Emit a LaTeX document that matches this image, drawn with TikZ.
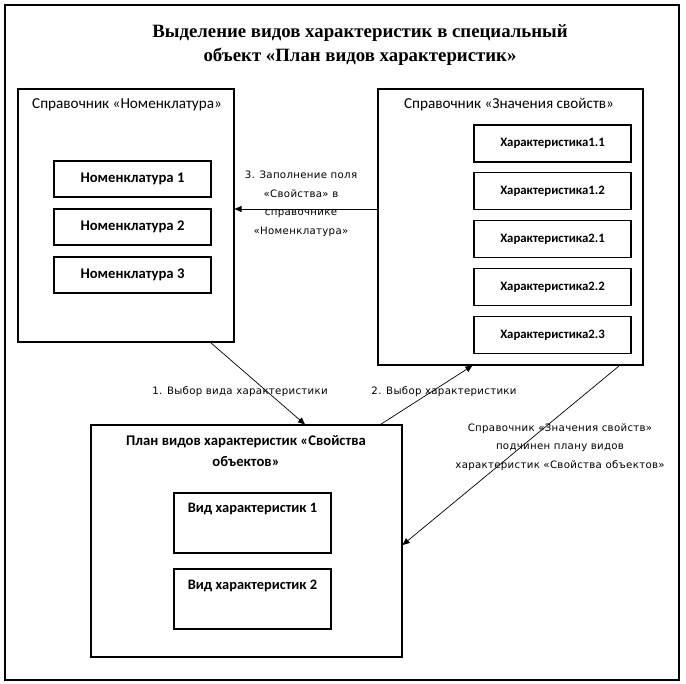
\documentclass[tikz,border=0pt]{standalone}
\usepackage{fontspec}
\setmainfont{Liberation Serif}
\newfontfamily\calfont{Carlito}
\newfontfamily\notefont[LetterSpace=3]{DejaVu Sans}
\usetikzlibrary{arrows.meta,positioning}

\begin{document}
\begin{tikzpicture}[x=1pt,y=-1pt,
  every node/.style={inner sep=0pt},
  box/.style={draw,line width=1.1pt},
  item/.style={box,minimum width=157pt,minimum height=36pt,font=\calfont\bfseries\fontsize{14.7}{16}\selectfont},
  chr/.style={item,minimum height=37pt,font=\calfont\bfseries\fontsize{12.8}{14}\selectfont},
  vid/.style={item,minimum height=60pt,text height=20pt,text depth=40pt,font=\calfont\bfseries\fontsize{14.4}{16}\selectfont},
  ttl/.style={font=\calfont\fontsize{15.2}{21}\selectfont,align=center},
  note/.style={font=\notefont\fontsize{10.2}{18.5}\selectfont,align=center},
  arr/.style={-{Triangle[length=7pt,width=6pt]},line width=0.7pt}
]
\useasboundingbox (0,0) rectangle (686,684);
\draw[box] (5,5) rectangle (679,680);

\node[font=\bfseries\fontsize{18.8}{24}\selectfont,align=center] (title) at (360,45)
  {Выделение видов характеристик в специальный\\объект «План видов характеристик»};

% Справочник «Номенклатура»
\node[box,minimum width=216pt,minimum height=253pt] (lbox) at (126,215.5) {};
\node[ttl] (ltitle) at (127,105) {Справочник «Номенклатура»};
\node[item] (n1) at (132.5,179) {Номенклатура 1};
\node[item] (n2) at (132.5,227) {Номенклатура 2};
\node[item] (n3) at (132.5,275) {Номенклатура 3};

% Справочник «Значения свойств»
\node[box,minimum width=265pt,minimum height=276pt] (rbox) at (510.5,227) {};
\node[ttl] (rtitle) at (509,105) {Справочник «Значения свойств»};
\node[chr] (c11) at (552.5,143.5) {Характеристика1.1};
\node[chr] (c12) at (552.5,191) {Характеристика1.2};
\node[chr] (c21) at (552.5,239) {Характеристика2.1};
\node[chr] (c22) at (552.5,287) {Характеристика2.2};
\node[chr] (c23) at (552.5,335) {Характеристика2.3};

% План видов характеристик
\node[box,minimum width=311pt,minimum height=232pt] (bbox) at (246.5,541) {};
\node[ttl,font=\calfont\bfseries\fontsize{14.7}{21}\selectfont] (btitle) at (246,451.5)
  {План видов характеристик «Свойства\\объектов»};
\node[vid] (v1) at (252.5,523) {Вид характеристик 1};
\node[vid] (v2) at (252.5,599) {Вид характеристик 2};

% Стрелки
\draw[arr] ([xshift=-24pt]lbox.south east) -- ([xshift=58.5pt]bbox.north);
\draw[arr] ([xshift=-22pt]bbox.north east) -- ([xshift=95pt]rbox.south west);
\draw[arr] ([yshift=18pt]rbox.west) coordinate (s3) -- (s3 -| lbox.east);
\draw[arr] ([xshift=-24pt]rbox.south east) -- ([yshift=-4pt]bbox.east);

\node[note] (l1) at (240,392) {1. Выбор вида характеристики};
\node[note] (l2) at (444,392) {2. Выбор характеристики};
\node[note] (l3) at (301,204) {3. Заполнение поля\\«Свойства» в\\справочнике\\«Номенклатура»};
\node[note] (l4) at (560,447) {Справочник «Значения свойств»\\подчинен плану видов\\характеристик «Свойства объектов»};
\end{tikzpicture}
\end{document}
